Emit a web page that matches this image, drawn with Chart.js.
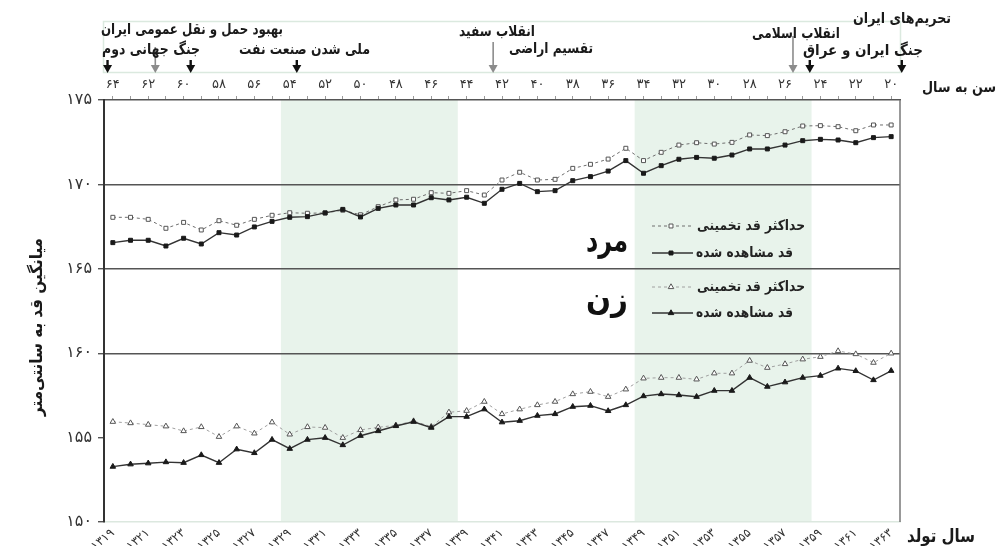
<!DOCTYPE html>
<html><head><meta charset="utf-8">
<script src="https://cdn.jsdelivr.net/npm/chart.js@4/dist/chart.umd.min.js"></script>
<style>html,body{margin:0;padding:0;background:#fff}#wrap{width:998px;height:546px;position:relative}</style>
</head><body><div id="wrap"><canvas id="c" width="998" height="546"></canvas></div>
<script>
// ---------- data ----------
const years = [1319,1320,1321,1322,1323,1324,1325,1326,1327,1328,1329,1330,1331,1332,1333,1334,1335,1336,1337,1338,1339,1340,1341,1342,1343,1344,1345,1346,1347,1348,1349,1350,1351,1352,1353,1354,1355,1356,1357,1358,1359,1360,1361,1362,1363];
const ages = [64,63,62,61,60,59,58,57,56,55,54,53,52,51,50,49,48,47,46,45,44,43,42,41,40,39,38,37,36,35,34,33,32,31,30,29,28,27,26,25,24,23,22,21,20];
const menObserved = [166.55,166.69,166.69,166.35,166.81,166.47,167.14,167.0,167.48,167.81,168.05,168.09,168.31,168.52,168.07,168.58,168.78,168.78,169.21,169.08,169.24,168.88,169.71,170.06,169.57,169.63,170.22,170.46,170.79,171.41,170.66,171.11,171.49,171.6,171.55,171.74,172.1,172.1,172.33,172.59,172.67,172.63,172.47,172.77,172.83];
const menMax = [168.05,168.05,167.93,167.4,167.75,167.3,167.85,167.58,167.93,168.17,168.32,168.29,168.31,168.47,168.2,168.68,169.08,169.12,169.51,169.47,169.63,169.37,170.26,170.72,170.26,170.3,170.95,171.19,171.5,172.14,171.41,171.9,172.33,172.47,172.39,172.49,172.93,172.89,173.12,173.46,173.48,173.42,173.18,173.52,173.52];
const womenObserved = [153.28,153.42,153.48,153.55,153.51,153.97,153.51,154.31,154.09,154.88,154.34,154.88,154.99,154.56,155.11,155.39,155.69,155.94,155.59,156.24,156.24,156.68,155.91,156.0,156.3,156.4,156.83,156.89,156.58,156.93,157.46,157.58,157.52,157.42,157.78,157.78,158.55,158.02,158.28,158.55,158.67,159.1,158.95,158.41,158.96];
const womenMax = [155.94,155.86,155.77,155.67,155.39,155.63,155.05,155.67,155.25,155.91,155.19,155.63,155.59,154.99,155.45,155.61,155.73,155.98,155.65,156.5,156.59,157.13,156.4,156.68,156.93,157.13,157.58,157.72,157.42,157.86,158.51,158.55,158.55,158.45,158.81,158.81,159.56,159.14,159.36,159.64,159.79,160.13,159.95,159.44,159.99];
const yTicks = [150,155,160,165,170,175];
const bandStart = [1329,1349];
const bandEnd = [1338,1358];
const seriesNames = ['قد مشاهده شده','حداکثر قد تخمینی'];
const groupNames = ['مرد','زن'];
const eventNames = ['تحریم‌های ایران','بهبود حمل و نقل عمومی ایران','انقلاب سفید','انقلاب اسلامی','جنگ جهانی دوم','ملی شدن صنعت نفت','تقسیم اراضی','جنگ ایران و عراق'];
const arrowYears = [1318.7,1321.4,1323.4,1329.4,1340.5,1357.45,1358.4,1363.6];
const arrowMajor = [false,true,false,false,true,true,false,false];

// ---------- helpers / layout ----------
const FONT = 'DejaVu Sans';
const fa = n => String(n).replace(/\d/g, d => '۰۱۲۳۴۵۶۷۸۹'[d]);
const eventTextPos = [[951,19,98],[283,30,182],[535,32,76],[840,34,88],[200,50,98],[370,50,131],[593,49,84],[923,51,120]];
const arrowTop = [60,47,60,60,42,36,60,60];

const decor = {
  id: 'decor',
  beforeDraw(chart) {
    const {ctx, chartArea: a, scales: {x}} = chart;
    const half = (x.getPixelForValue(1) - x.getPixelForValue(0)) / 2;
    ctx.save();
    ctx.fillStyle = '#e8f3eb';
    bandStart.forEach((s, i) => {
      const x0 = x.getPixelForValue(years.indexOf(s)) - half;
      const x1 = x.getPixelForValue(years.indexOf(bandEnd[i])) + half;
      ctx.fillRect(x0, a.top, x1 - x0, a.bottom - a.top);
    });
    ctx.restore();
  },
  afterDraw(chart) {
    const {ctx, chartArea: a, scales: {x}} = chart;
    ctx.save();
    ctx.strokeStyle = '#777'; ctx.lineWidth = 1.5;
    ctx.beginPath(); ctx.moveTo(a.right, a.top); ctx.lineTo(a.right, a.bottom); ctx.stroke();
    ctx.strokeStyle = '#dbe9df'; ctx.lineWidth = 1.5;
    ctx.strokeRect(103.5, 21.5, 797, 51);
    arrowYears.forEach((yr, i) => {
      const px = x.getPixelForValue(yr - years[0]);
      const col = arrowMajor[i] ? '#8c8c8c' : '#111';
      ctx.strokeStyle = col; ctx.fillStyle = col;
      ctx.lineWidth = arrowMajor[i] ? 1.6 : 2.4;
      ctx.beginPath(); ctx.moveTo(px, arrowTop[i]); ctx.lineTo(px, 67); ctx.stroke();
      ctx.beginPath(); ctx.moveTo(px - 4.5, 65); ctx.lineTo(px + 4.5, 65); ctx.lineTo(px, 73); ctx.closePath(); ctx.fill();
    });
    ctx.direction = 'rtl'; ctx.textAlign = 'right'; ctx.textBaseline = 'middle';
    ctx.fillStyle = '#1a1a1a';
    ctx.font = 'bold 15px "' + FONT + '"';
    eventNames.forEach((t, i) => {
      const [rx, cy, w] = eventTextPos[i];
      ctx.fillText(t, rx, cy, w);
    });
    ctx.font = 'bold 15px "' + FONT + '"';
    ctx.fillText('سن به سال', 996, 88, 74);
    ctx.font = 'bold 18px "' + FONT + '"';
    ctx.fillText('سال تولد', 975, 537, 68);
    ctx.save();
    ctx.translate(38, 327); ctx.rotate(-Math.PI / 2);
    ctx.textAlign = 'center';
    ctx.font = 'bold 17px "' + FONT + '"';
    ctx.fillText('میانگین قد به سانتی‌متر', 0, 0, 178);
    ctx.restore();
    const ds = chart.data.datasets;
    const groups = [[0,1,226,253,243],[2,3,287,313,302]];
    groups.forEach(([obs, mx, yMax, yObs, yName], g) => {
      ctx.textAlign = 'right';
      ctx.font = 'bold 32px "' + FONT + '"';
      ctx.fillStyle = '#111';
      ctx.fillText(groupNames[g], 628, yName, 42);
      ctx.font = 'bold 14px "' + FONT + '"';
      ctx.fillStyle = '#222';
      ctx.fillText(seriesNames[1], 805, yMax, 108);
      ctx.fillText(seriesNames[0], 793, yObs, 97);
      [[ds[mx], yMax], [ds[obs], yObs]].forEach(([d, yy]) => {
        ctx.save();
        ctx.strokeStyle = d.borderColor; ctx.lineWidth = d.borderWidth;
        ctx.setLineDash(d.borderDash || []);
        ctx.beginPath(); ctx.moveTo(652, yy); ctx.lineTo(693, yy); ctx.stroke();
        ctx.setLineDash([]);
        ctx.fillStyle = d.pointBackgroundColor; ctx.strokeStyle = d.pointBorderColor; ctx.lineWidth = d.pointBorderWidth;
        Chart.helpers.drawPoint(ctx, {pointStyle: d.pointStyle, radius: d.pointRadius, borderWidth: d.pointBorderWidth}, 671, yy);
        ctx.restore();
      });
    });
    ctx.restore();
  }
};

const mk = (data, style, dashed, light) => ({
  data,
  borderColor: dashed ? (light ? '#a0a0a0' : '#6e6e6e') : '#333',
  borderWidth: dashed ? 1 : 1.4,
  borderDash: dashed ? [3, 3] : [],
  pointStyle: style,
  pointRadius: style === 'rect' ? 2.8 : 3.2,
  pointHoverRadius: 3,
  pointBackgroundColor: dashed ? '#fff' : '#1a1a1a',
  pointBorderColor: dashed ? '#555' : '#1a1a1a',
  pointBorderWidth: 1,
  tension: 0,
  fill: false
});

new Chart(document.getElementById('c'), {
  type: 'line',
  data: {
    labels: years,
    datasets: [
      mk(menObserved, 'rect', false),
      mk(menMax, 'rect', true, false),
      mk(womenObserved, 'triangle', false),
      mk(womenMax, 'triangle', true, true)
    ]
  },
  options: {
    responsive: false,
    devicePixelRatio: 1,
    animation: false,
    layout: {padding: {top: 70, right: 98, bottom: 0, left: 0}},
    plugins: {legend: {display: false}, tooltip: {enabled: false}},
    scales: {
      x: {
        type: 'category', position: 'bottom', offset: true,
        afterFit: s => { s.height = 24; },
        grid: {drawOnChartArea: false, drawTicks: false},
        border: {color: '#dce8df', width: 1.5},
        ticks: {
          autoSkip: false, minRotation: 40, maxRotation: 40, padding: 4,
          color: '#333', font: {family: FONT, size: 12},
          callback: (v, i) => i % 2 === 0 ? fa(years[i]) : ''
        }
      },
      x2: {
        type: 'category', position: 'top', offset: true,
        afterFit: s => { s.height = 30; },
        grid: {drawOnChartArea: false, tickLength: 4, color: '#9a9a9a'},
        border: {color: '#555', width: 1.5},
        ticks: {
          autoSkip: false, maxRotation: 0, padding: 4,
          color: '#333', font: {family: FONT, size: 13},
          callback: (v, i) => i % 2 === 0 ? fa(ages[i]) : ''
        }
      },
      y: {
        min: 150, max: 175,
        afterFit: s => { s.width = 104; },
        afterBuildTicks: s => { s.ticks = yTicks.map(v => ({value: v})); },
        grid: {
          color: c => [160,165,170].includes(c.tick && c.tick.value) ? '#555' : 'rgba(0,0,0,0)',
          tickColor: '#555', tickLength: 6, lineWidth: 1.4
        },
        border: {color: '#333', width: 2},
        ticks: {color: '#333', padding: 6, font: {family: FONT, size: 16}, callback: v => fa(v)}
      }
    }
  },
  plugins: [decor]
});
</script>
</body></html>
